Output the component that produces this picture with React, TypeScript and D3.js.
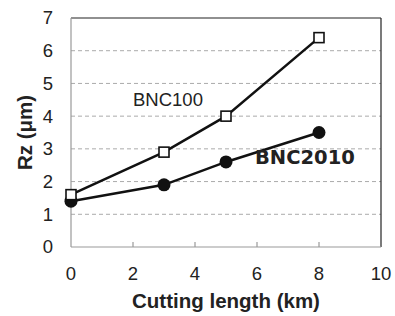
import { useEffect, useRef } from 'react'
import * as d3 from 'd3'

const cuttingLength = [0, 3, 5, 8]
const bnc100 = [1.6, 2.9, 4.0, 6.4]
const bnc2010 = [1.4, 1.9, 2.6, 3.5]
const xTicks = [0, 2, 4, 6, 8, 10]
const yTicks = [0, 1, 2, 3, 4, 5, 6, 7]

export default function App() {
  const svgRef = useRef<SVGSVGElement>(null)

  useEffect(() => {
    if (!svgRef.current) return
    const svg = d3.select(svgRef.current)
    svg.selectAll('*').remove()

    const margin = { top: 18, right: 14, bottom: 69, left: 71 }
    const W = 395
    const H = 316
    const width = W - margin.left - margin.right
    const height = H - margin.top - margin.bottom
    const font = '"Liberation Sans", Arial, sans-serif'

    const g = svg.append('g').attr('transform', `translate(${margin.left},${margin.top})`)

    const x = d3.scaleLinear().domain([0, 10]).range([0, width])
    const y = d3.scaleLinear().domain([0, 7]).range([height, 0])

    // dashed grid
    g.selectAll('.grid')
      .data(yTicks.filter((t) => t > 0 && t < 7))
      .enter()
      .append('line')
      .attr('x1', 0)
      .attr('x2', width)
      .attr('y1', (d) => y(d))
      .attr('y2', (d) => y(d))
      .attr('stroke', '#aaa')
      .attr('stroke-width', 1)
      .attr('stroke-dasharray', '4,3')

    // frame: top and right dark, left and bottom gray
    g.append('line').attr('x1', 0).attr('x2', width).attr('y1', 0).attr('y2', 0).attr('stroke', '#222').attr('stroke-width', 1.2)
    g.append('line').attr('x1', width).attr('x2', width).attr('y1', 0).attr('y2', height).attr('stroke', '#222').attr('stroke-width', 1.2)
    g.append('line').attr('x1', 0).attr('x2', 0).attr('y1', 0).attr('y2', height).attr('stroke', '#999').attr('stroke-width', 1.2)
    g.append('line').attr('x1', 0).attr('x2', width).attr('y1', height).attr('y2', height).attr('stroke', '#999').attr('stroke-width', 1.2)

    // x ticks (inside) and labels
    g.selectAll('.xtick')
      .data(xTicks.slice(1, -1))
      .enter()
      .append('line')
      .attr('x1', (d) => x(d))
      .attr('x2', (d) => x(d))
      .attr('y1', height)
      .attr('y2', height - 5)
      .attr('stroke', '#999')
      .attr('stroke-width', 1.2)

    g.selectAll('.xlab')
      .data(xTicks)
      .enter()
      .append('text')
      .attr('x', (d) => x(d))
      .attr('y', height + 33)
      .attr('text-anchor', 'middle')
      .style('font-family', font)
      .style('font-size', '18.5px')
      .attr('fill', '#222')
      .text((d) => d)

    g.selectAll('.ylab')
      .data(yTicks)
      .enter()
      .append('text')
      .attr('x', -18)
      .attr('y', (d) => y(d))
      .attr('dy', '0.35em')
      .attr('text-anchor', 'end')
      .style('font-family', font)
      .style('font-size', '18.5px')
      .attr('fill', '#222')
      .text((d) => d)

    // axis titles
    g.append('text')
      .attr('x', (x(0) + x(10)) / 2)
      .attr('y', height + 61)
      .attr('text-anchor', 'middle')
      .style('font-family', font)
      .style('font-size', '20.5px')
      .style('font-weight', 'bold')
      .attr('fill', '#222')
      .text('Cutting length (km)')

    g.append('text')
      .attr('transform', `translate(${-margin.left + 32},${height / 2}) rotate(-90)`)
      .attr('text-anchor', 'middle')
      .style('font-family', font)
      .style('font-size', '20.5px')
      .style('font-weight', 'bold')
      .attr('fill', '#222')
      .text('Rz (μm)')

    const line = d3
      .line<number>()
      .x((_, i) => x(cuttingLength[i]))
      .y((d) => y(d))

    // BNC100 squares
    g.append('path').datum(bnc100).attr('d', line).attr('fill', 'none').attr('stroke', '#111').attr('stroke-width', 2.5)
    // BNC2010 circles
    g.append('path').datum(bnc2010).attr('d', line).attr('fill', 'none').attr('stroke', '#111').attr('stroke-width', 2.5)

    g.selectAll('.circ')
      .data(bnc2010)
      .enter()
      .append('circle')
      .attr('cx', (_, i) => x(cuttingLength[i]))
      .attr('cy', (d) => y(d))
      .attr('r', 6.5)
      .attr('fill', '#111')

    const s = 10
    g.selectAll('.sq')
      .data(bnc100)
      .enter()
      .append('rect')
      .attr('x', (_, i) => x(cuttingLength[i]) - s / 2)
      .attr('y', (d) => y(d) - s / 2)
      .attr('width', s)
      .attr('height', s)
      .attr('fill', '#fff')
      .attr('stroke', '#111')
      .attr('stroke-width', 1.6)

    // series labels
    g.append('text')
      .attr('x', 133 - margin.left)
      .attr('y', 105.7 - margin.top)
      .style('font-family', font)
      .style('font-size', '18.5px')
      .attr('fill', '#222')
      .text('BNC100')

    g.append('text')
      .attr('x', 255 - margin.left)
      .attr('y', 163.5 - margin.top)
      .style('font-family', '"DejaVu Sans", Verdana, sans-serif')
      .style('font-size', '19.5px')
      .style('font-weight', 'bold')
      .attr('fill', '#222')
      .text('BNC2010')
  }, [])

  return <svg ref={svgRef} width={395} height={316} style={{ position: 'absolute', left: 0, top: 0 }} />
}
